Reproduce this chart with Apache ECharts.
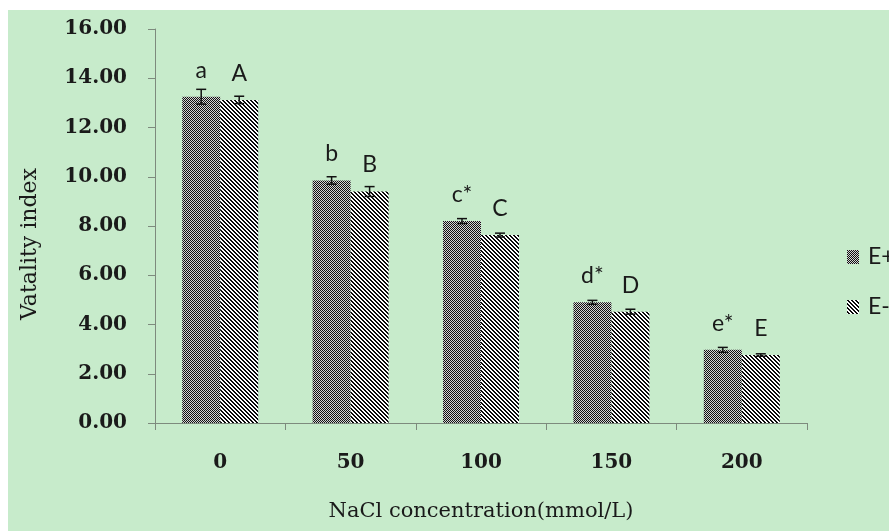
<!DOCTYPE html>
<html>
<head>
<meta charset="utf-8">
<script src="https://cdn.jsdelivr.net/npm/echarts@6/dist/echarts.min.js"></script>
<style>
html,body{margin:0;padding:0;background:#ffffff;width:889px;height:531px;overflow:hidden;}
#chart{position:absolute;left:8px;top:10px;width:881px;height:521px;background:#c7ebcb;}
</style>
</head>
<body>
<div id="chart"></div>
<script>
const categories = ['0', '50', '100', '150', '200'];
const ePlus = [13.25, 9.85, 8.20, 4.90, 2.97];
const eMinus = [13.12, 9.40, 7.63, 4.52, 2.76];
const ePlusErr = [0.30, 0.15, 0.10, 0.08, 0.10];
const eMinusErr = [0.15, 0.20, 0.08, 0.10, 0.05];
const ePlusLetters = ['a', 'b', 'c*', 'd*', 'e*'];
const eMinusLetters = ['A', 'B', 'C', 'D', 'E'];
const seriesNames = ['E+', 'E-'];
const yMin = 0, yMax = 16, yStep = 2;

function makeChecker() {
  const c = document.createElement('canvas');
  c.width = 2; c.height = 2;
  const g = c.getContext('2d');
  g.fillStyle = '#d4d4d4'; g.fillRect(0, 0, 2, 2);
  g.fillStyle = '#111111';
  g.fillRect(0, 0, 1, 1); g.fillRect(1, 1, 1, 1);
  return c;
}
function makeStripes() {
  const n = 4;
  const c = document.createElement('canvas');
  c.width = n; c.height = n;
  const g = c.getContext('2d');
  g.fillStyle = '#ffffff'; g.fillRect(0, 0, n, n);
  g.fillStyle = '#0a0a0a';
  for (let y = 0; y < n; y++) {
    for (let x = 0; x < n; x++) {
      const d = ((x - y) % n + n) % n;
      if (d === 0 || d === 1) g.fillRect(x, y, 1, 1);
    }
  }
  return c;
}
const patPlus = { image: makeChecker(), repeat: 'repeat' };
const patMinus = { image: makeStripes(), repeat: 'repeat' };

const BAR_W = 38;
const serif = 'DejaVu Serif';
const sans = 'Lato';
const textColor = '#1a1a1a';
const axisColor = '#7d8a7d';

function errSeries(vals, errs, offsetSign) {
  return {
    type: 'custom',
    silent: true,
    z: 5,
    data: vals.map((v, i) => [i, v - errs[i], v + errs[i]]),
    renderItem: function (params, api) {
      const i = api.value(0);
      const lo = api.coord([i, api.value(1)]);
      const hi = api.coord([i, api.value(2)]);
      const x = lo[0] + offsetSign * BAR_W / 2;
      const cap = 5;
      const style = { stroke: '#111', lineWidth: 1.5 };
      return {
        type: 'group',
        children: [
          { type: 'line', shape: { x1: x, y1: lo[1], x2: x, y2: hi[1] }, style: style },
          { type: 'line', shape: { x1: x - cap, y1: hi[1], x2: x + cap, y2: hi[1] }, style: style },
          { type: 'line', shape: { x1: x - cap, y1: lo[1], x2: x + cap, y2: lo[1] }, style: style }
        ]
      };
    }
  };
}

const chart = echarts.init(document.getElementById('chart'), null, { renderer: 'canvas' });
chart.setOption({
  backgroundColor: '#c7ebcb',
  animation: false,
  grid: { left: 147, right: 82, top: 19, bottom: 108, containLabel: false },
  legend: {
    orient: 'vertical',
    left: 839,
    top: 234,
    padding: 0,
    itemWidth: 12,
    itemHeight: 14,
    itemGap: 24,
    icon: 'rect',
    data: seriesNames,
    textStyle: { fontFamily: sans, fontSize: 23, color: textColor, lineHeight: 26, padding: [0, 0, 0, 4] }
  },
  xAxis: {
    type: 'category',
    data: categories,
    name: 'NaCl concentration(mmol/L)',
    nameLocation: 'middle',
    nameGap: 78,
    nameTextStyle: { fontFamily: serif, fontSize: 21, color: textColor },
    axisLine: { show: true, lineStyle: { color: axisColor, width: 1 } },
    axisTick: { show: true, length: 7, lineStyle: { color: axisColor } },
    axisLabel: { margin: 30, fontFamily: serif, fontWeight: 'bold', fontSize: 20, color: textColor },
    splitLine: { show: false }
  },
  yAxis: {
    type: 'value',
    min: yMin, max: yMax, interval: yStep,
    name: 'Vatality index',
    nameLocation: 'middle',
    nameGap: 114,
    nameRotate: 90,
    nameTextStyle: { fontFamily: serif, fontSize: 22, color: textColor, padding: [0, 36, 0, 0] },
    axisLine: { show: true, lineStyle: { color: axisColor, width: 1 } },
    axisTick: { show: true, length: 7, lineStyle: { color: axisColor } },
    axisLabel: { margin: 28, fontFamily: serif, fontWeight: 'bold', fontSize: 20, color: textColor,
      formatter: v => v.toFixed(2) },
    splitLine: { show: false }
  },
  series: [
    {
      name: seriesNames[0], type: 'bar', data: ePlus, barWidth: BAR_W, barGap: '0%',
      itemStyle: { color: patPlus },
      label: { show: true, position: 'top', distance: 15, fontFamily: sans, fontSize: 23, color: textColor,
        formatter: p => ePlusLetters[p.dataIndex] }
    },
    {
      name: seriesNames[1], type: 'bar', data: eMinus, barWidth: BAR_W, barGap: '0%',
      itemStyle: { color: patMinus },
      label: { show: true, position: 'top', distance: 15, fontFamily: sans, fontSize: 23, color: textColor,
        formatter: p => eMinusLetters[p.dataIndex] }
    },
    errSeries(ePlus, ePlusErr, -1),
    errSeries(eMinus, eMinusErr, 1)
  ]
});
</script>
</body>
</html>
